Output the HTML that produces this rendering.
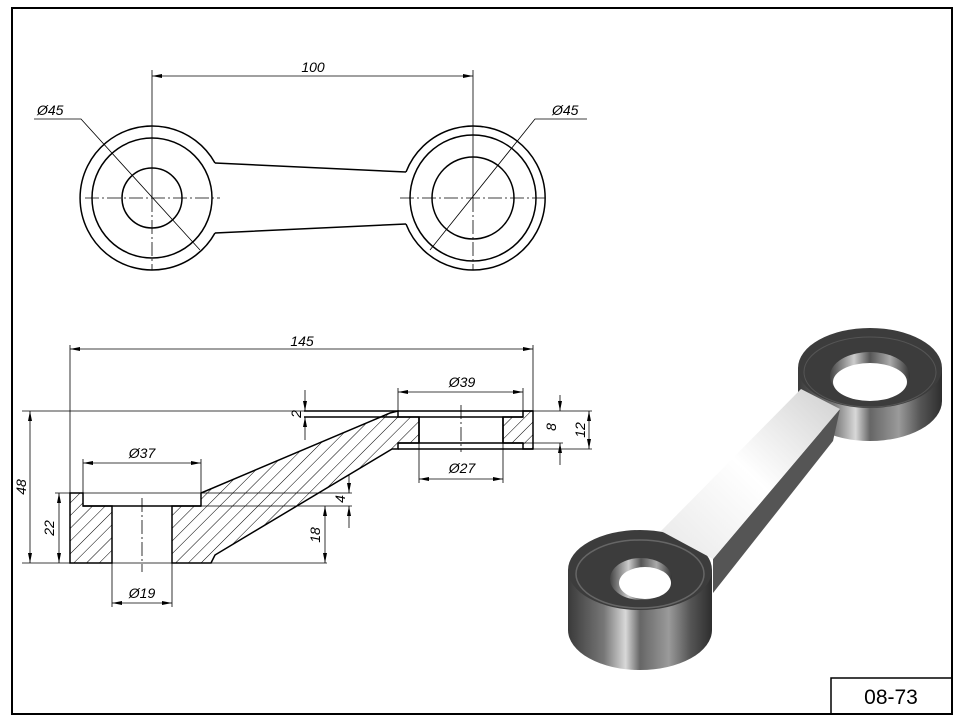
<!DOCTYPE html>
<html><head><meta charset="utf-8"><style>
html,body{margin:0;padding:0;background:#fff}
svg{display:block}
text{font-family:"Liberation Sans",sans-serif;font-style:italic;font-size:14px;fill:#000}
</style></head><body>
<svg width="957" height="719" viewBox="0 0 957 719" xmlns="http://www.w3.org/2000/svg">
<defs>
<pattern id="h" patternUnits="userSpaceOnUse" width="9" height="9" patternTransform="rotate(45)">
<line x1="0" y1="0" x2="0" y2="9" stroke="#000" stroke-width="1"/></pattern>
<marker id="a" viewBox="0 0 10 4" refX="10" refY="2" markerWidth="10" markerHeight="4" orient="auto-start-reverse" markerUnits="userSpaceOnUse"><path d="M0,0 L10,2 L0,4z" fill="#000"/></marker>
<linearGradient id="cyl" x1="0" x2="1" y1="0" y2="0">
<stop offset="0" stop-color="#3a3a3a"/><stop offset="0.25" stop-color="#777"/><stop offset="0.4" stop-color="#d8d8d8"/><stop offset="0.5" stop-color="#666"/><stop offset="0.7" stop-color="#9a9a9a"/><stop offset="0.85" stop-color="#555"/><stop offset="1" stop-color="#2e2e2e"/></linearGradient>
<linearGradient id="hole" x1="0" x2="1" y1="0" y2="0">
<stop offset="0" stop-color="#444"/><stop offset="0.3" stop-color="#ccc"/><stop offset="0.5" stop-color="#555"/><stop offset="0.75" stop-color="#aaa"/><stop offset="1" stop-color="#333"/></linearGradient>
<linearGradient id="arm" x1="0" x2="1" y1="1" y2="0">
<stop offset="0" stop-color="#e8e8e8"/><stop offset="0.5" stop-color="#fff"/><stop offset="1" stop-color="#d0d0d0"/></linearGradient>
</defs>
<rect x="12" y="8" width="940" height="706" fill="none" stroke="#000" stroke-width="2"/>
<rect x="831" y="678" width="121" height="36" fill="none" stroke="#000" stroke-width="1.5"/>
<text x="891" y="704" text-anchor="middle" style="font-style:normal;font-size:21px">08-73</text>

<!-- TOP VIEW -->
<g fill="none" stroke="#000" stroke-width="1.5">
<path d="M215,163 L406,172 M215,233 L406,224"/>
<path d="M215,163 A72,72 0 1 0 215,233"/>
<path d="M406,172 A72,72 0 1 1 406,224"/>
<circle cx="152" cy="198" r="60"/><circle cx="152" cy="198" r="30"/>
<circle cx="473" cy="198" r="63"/><circle cx="473" cy="198" r="41"/>
</g>
<g stroke="#000" stroke-width="0.8" fill="none">
<path d="M85,198 H220 M400,198 H545 M152,198 V270 M473,198 V270" stroke-dasharray="14,3,2,3"/>
<path d="M152,70 V198 M473,70 V198"/>
<line x1="152" y1="76" x2="473" y2="76" marker-start="url(#a)" marker-end="url(#a)"/>
<path d="M34,119 H81 L200,250 M587,119 H535 L430,250"/>
</g>
<text x="313" y="72" text-anchor="middle">100</text>
<text x="37" y="115">Ø45</text><text x="552" y="115">Ø45</text>

<!-- SECTION -->
<g stroke="#000" stroke-width="1.5" fill="url(#h)">
<path d="M70,493 H83 V506 H112 V563 H70 Z"/>
<path d="M172,506 H201 V493 L390,413 L398,411 V417 H419 V443 H398 V449 H392 L215,555 L211,563 H172 Z"/>
<path d="M503,417 H523 V411 H533 V449 H523 V443 H503 Z"/>
</g>
<g stroke="#000" stroke-width="1.5" fill="none">
<path d="M304,411 H533 M304,417 H398 M398,417 H523 M398,443 H523 M398,449 H533 M83,506 H201 M419,417 V443 M503,417 V443"/>
</g>
<g stroke="#000" stroke-width="0.8" fill="none">
<path d="M142,498 V572 M461,405 V452" stroke-dasharray="14,3,2,3"/>
<path d="M22,411 H304 M22,563 H327 M55,493 H352 M201,506 H352 M533,411 H592 M523,443 H563 M533,449 H592 M70,345 V493 M533,345 V411 M83,459 V493 M201,459 V493 M398,388 V411 M523,388 V411 M419,443 V483 M503,443 V483 M112,563 V607 M172,563 V607"/>
<line x1="70" y1="349" x2="533" y2="349" marker-start="url(#a)" marker-end="url(#a)"/>
<line x1="398" y1="392" x2="523" y2="392" marker-start="url(#a)" marker-end="url(#a)"/>
<line x1="419" y1="479" x2="503" y2="479" marker-start="url(#a)" marker-end="url(#a)"/>
<line x1="83" y1="463" x2="201" y2="463" marker-start="url(#a)" marker-end="url(#a)"/>
<line x1="112" y1="603" x2="172" y2="603" marker-start="url(#a)" marker-end="url(#a)"/>
<line x1="30" y1="411" x2="30" y2="563" marker-start="url(#a)" marker-end="url(#a)"/>
<line x1="59" y1="493" x2="59" y2="563" marker-start="url(#a)" marker-end="url(#a)"/>
<line x1="325" y1="506" x2="325" y2="563" marker-start="url(#a)" marker-end="url(#a)"/>
<line x1="589" y1="411" x2="589" y2="449" marker-start="url(#a)" marker-end="url(#a)"/>
<line x1="349" y1="475" x2="349" y2="493" marker-end="url(#a)"/>
<line x1="349" y1="528" x2="349" y2="506" marker-end="url(#a)"/>
<line x1="305" y1="390" x2="305" y2="411" marker-end="url(#a)"/>
<line x1="305" y1="440" x2="305" y2="417" marker-end="url(#a)"/>
<line x1="560" y1="395" x2="560" y2="411" marker-end="url(#a)"/>
<line x1="560" y1="465" x2="560" y2="443" marker-end="url(#a)"/>
</g>
<text x="302" y="346" text-anchor="middle">145</text>
<text x="462" y="387" text-anchor="middle">Ø39</text>
<text x="462" y="473" text-anchor="middle">Ø27</text>
<text x="142" y="458" text-anchor="middle">Ø37</text>
<text x="142" y="598" text-anchor="middle">Ø19</text>
<text transform="translate(26,487) rotate(-90)" text-anchor="middle">48</text>
<text transform="translate(54,528) rotate(-90)" text-anchor="middle">22</text>
<text transform="translate(320,535) rotate(-90)" text-anchor="middle">18</text>
<text transform="translate(345,499) rotate(-90)" text-anchor="middle">4</text>
<text transform="translate(301,414) rotate(-90)" text-anchor="middle">2</text>
<text transform="translate(556,427) rotate(-90)" text-anchor="middle">8</text>
<text transform="translate(585,430) rotate(-90)" text-anchor="middle">12</text>

<!-- 3D -->
<g>
<path d="M798,368 V401 A72,40 0 0 0 942,401 V368 Z" fill="url(#cyl)"/>
<ellipse cx="870" cy="368" rx="72" ry="40" fill="#3c3c3c"/>
<ellipse cx="870" cy="372" rx="66" ry="35" fill="none" stroke="#555" stroke-width="1"/>
<ellipse cx="870" cy="376" rx="40" ry="24" fill="url(#hole)"/>
<ellipse cx="870" cy="382" rx="37" ry="19" fill="#fff"/>
<path d="M568,570 V630 A72,40 0 0 0 712,630 V570 Z" fill="url(#cyl)"/>
<ellipse cx="640" cy="570" rx="72" ry="40" fill="#3c3c3c"/>
<ellipse cx="640" cy="574" rx="64" ry="34" fill="none" stroke="#666" stroke-width="1.5"/>
<ellipse cx="641" cy="579" rx="31" ry="21" fill="url(#hole)"/>
<ellipse cx="645" cy="583" rx="26" ry="16" fill="#fff"/>
<path d="M713,559 L840,409 L833,441 L713,593 Z" fill="#555"/>
<path d="M661,531 L801,389 L840,409 L713,559 Z" fill="url(#arm)"/>
</g>
</svg>
</body></html>
